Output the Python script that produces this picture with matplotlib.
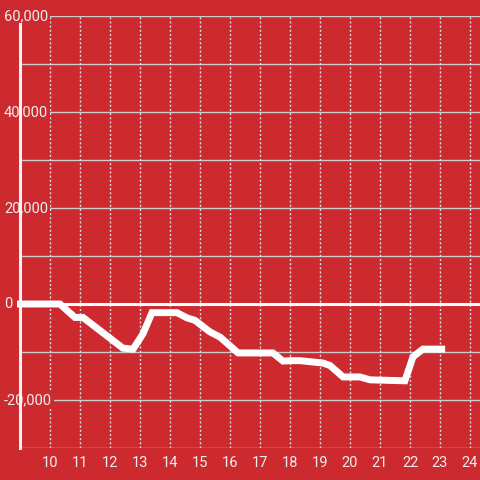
import matplotlib.pyplot as plt
import matplotlib.transforms as mtransforms

# значения
hours = [8.9, 10.33, 10.83, 11.1, 12.43, 12.77, 13.1, 13.4, 14.23, 14.57, 14.83,
         15.33, 15.67, 16.27, 17.43, 17.77, 18.0, 18.33, 19.1, 19.33, 19.77,
         20.33, 20.67, 21.83, 22.1, 22.43, 23.17]
values = [0, 0, -2800, -2800, -9200, -9400, -6200, -1800, -1800, -2900, -3400,
          -5800, -6900, -10200, -10200, -11900, -11800, -11800, -12300, -12800, -15200,
          -15200, -15800, -16000, -11000, -9400, -9400]

x_ticks = list(range(10, 25))
y_grid = list(range(-30000, 60001, 10000))
y_labels = [60000, 40000, 20000, 0, -20000]

bg = '#cc2a2f'
txt = '#eeeeee'

plt.rcParams['font.family'] = ['Roboto', 'DejaVu Sans']

fig = plt.figure(figsize=(4.8, 4.8), dpi=100, facecolor=bg)
ax = fig.add_axes([20 / 480, 1 - 448 / 480, 460 / 480, 432 / 480])
ax.set_facecolor(bg)
ax.set_xlim(9, 24.333)
ax.set_ylim(-30000, 60000)

# сетка
for y in y_grid:
    ax.axhline(y, color='#cccccc', lw=1, zorder=1)
for x in x_ticks:
    ax.axvline(x, color='#dddddd', lw=1, linestyle=(0, (1.5, 1.5)), zorder=1)

for s in ['top', 'right', 'bottom']:
    ax.spines[s].set_visible(False)
ax.spines['left'].set_color('#f2f2f2')
ax.spines['left'].set_linewidth(2.2)
ax.spines['left'].set_zorder(2)
ax.spines['left'].set_bounds(-30000, 58300)

ax.axhline(0, color='white', lw=2.2, zorder=3)

ax.plot(hours, values, color='white', lw=5, solid_capstyle='butt',
        solid_joinstyle='miter', clip_on=False, zorder=4)

ax.set_yticks([])
ax.set_xticks(x_ticks)
ax.set_xticklabels([str(x) for x in x_ticks], color=txt, fontsize=10.5)
ax.tick_params(axis='x', length=0, pad=6)

# подписи оси Y: фон закрывает сетку, но ось видна поверх
trans = mtransforms.blended_transform_factory(fig.transFigure, ax.transData)
for y in y_labels:
    ax.text(4 / 480, y, f'{y:,}', transform=trans, ha='left', va='center',
            color=txt, fontsize=10.5, zorder=1.5,
            bbox=dict(facecolor=bg, edgecolor='none', pad=1.5))

fig.savefig('out.png', dpi=100, facecolor=bg)
